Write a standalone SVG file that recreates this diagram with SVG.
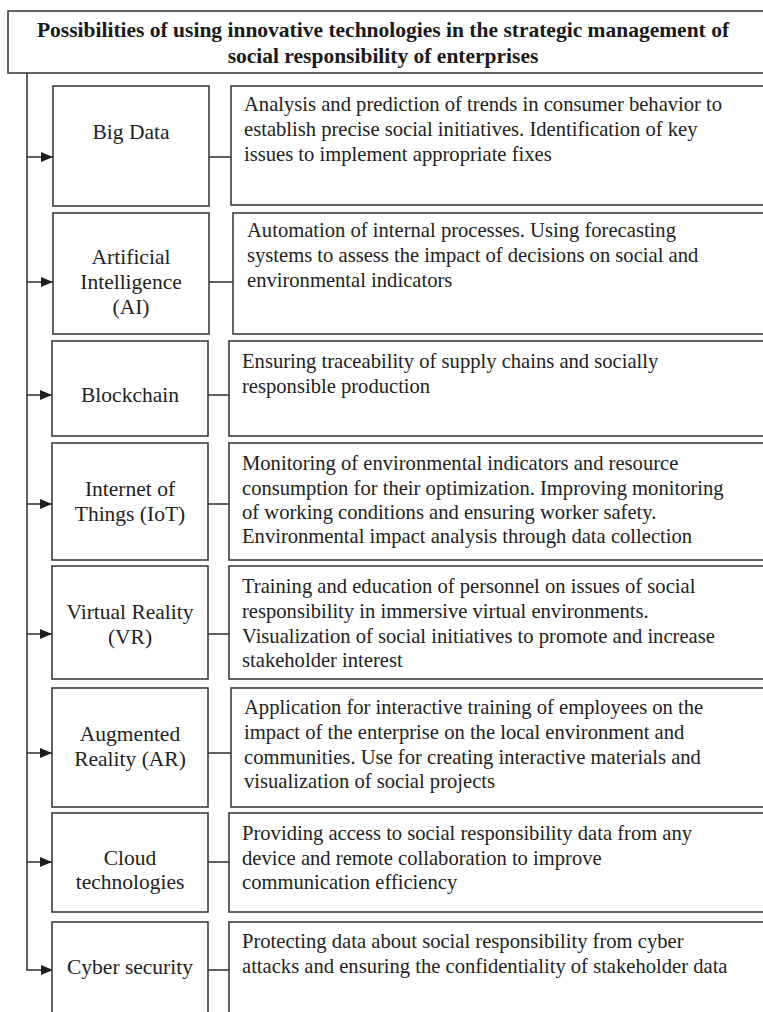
<svg xmlns="http://www.w3.org/2000/svg" width="763" height="1012" viewBox="0 0 763 1012">
  <style>
    .box { fill: #ffffff; stroke: #3c3c3c; stroke-width: 1.6; }
    .line { fill: none; stroke: #2e2e2e; stroke-width: 1.5; }
    .title { font-family: "Liberation Serif", "Times New Roman", serif; font-size: 21.5px; font-weight: bold; fill: #1a1a1a; text-anchor: middle; }
    .label { font-family: "Liberation Serif", "Times New Roman", serif; font-size: 21.5px; fill: #222222; text-anchor: middle; }
    .desc { font-family: "Liberation Serif", "Times New Roman", serif; font-size: 20.6px; fill: #222222; }
  </style>
  <defs>
    <marker id="arrow" viewBox="0 0 10 10" refX="10" refY="5" markerWidth="12" markerHeight="10" markerUnits="userSpaceOnUse" orient="auto" preserveAspectRatio="none">
      <path d="M0,0 L10,5 L0,10 z" fill="#1e1e1e"/>
    </marker>
  </defs>

  <rect width="763" height="1012" fill="#ffffff"/>

  <!-- heading -->
  <g id="title">
    <rect class="box" x="8" y="11" width="770" height="62"/>
    <text class="title" x="383" y="37">Possibilities of using innovative technologies in the strategic management of</text>
    <text class="title" x="383" y="63">social responsibility of enterprises</text>
  </g>

  <!-- connectors: trunk, arrows into each technology, links to descriptions -->
  <g id="connectors">
    <path class="line" d="M27,73 V970 H53" marker-end="url(#arrow)"/>
    <line class="line" x1="27" y1="157" x2="53" y2="157" marker-end="url(#arrow)"/>
    <line class="line" x1="27" y1="282" x2="53" y2="282" marker-end="url(#arrow)"/>
    <line class="line" x1="27" y1="395" x2="52" y2="395" marker-end="url(#arrow)"/>
    <line class="line" x1="27" y1="504" x2="52" y2="504" marker-end="url(#arrow)"/>
    <line class="line" x1="27" y1="634" x2="52" y2="634" marker-end="url(#arrow)"/>
    <line class="line" x1="27" y1="753" x2="52" y2="753" marker-end="url(#arrow)"/>
    <line class="line" x1="27" y1="862" x2="52" y2="862" marker-end="url(#arrow)"/>

    <line class="line" x1="209" y1="157" x2="231" y2="157"/>
    <line class="line" x1="209" y1="282" x2="233" y2="282"/>
    <line class="line" x1="208" y1="395" x2="229" y2="395"/>
    <line class="line" x1="208" y1="504" x2="229" y2="504"/>
    <line class="line" x1="208" y1="634" x2="229" y2="634"/>
    <line class="line" x1="208" y1="753" x2="231" y2="753"/>
    <line class="line" x1="208" y1="862" x2="229" y2="862"/>
    <line class="line" x1="208" y1="970" x2="229" y2="970"/>
  </g>

  <g id="big-data">
    <rect class="box" x="53" y="86" width="156" height="120"/>
    <text class="label" x="131" y="139">Big Data</text>
    <rect class="box" x="231" y="86" width="550" height="119"/>
    <text class="desc" x="244" y="111">Analysis and prediction of trends in consumer behavior to</text>
    <text class="desc" x="244" y="136">establish precise social initiatives. Identification of key</text>
    <text class="desc" x="244" y="161">issues to implement appropriate fixes</text>
  </g>

  <g id="artificial-intelligence">
    <rect class="box" x="53" y="213" width="156" height="121"/>
    <text class="label" x="131" y="264">Artificial</text>
    <text class="label" x="131" y="289">Intelligence</text>
    <text class="label" x="131" y="314">(AI)</text>
    <rect class="box" x="233" y="213" width="550" height="121"/>
    <text class="desc" x="247" y="237">Automation of internal processes. Using forecasting</text>
    <text class="desc" x="247" y="262">systems to assess the impact of decisions on social and</text>
    <text class="desc" x="247" y="287">environmental indicators</text>
  </g>

  <g id="blockchain">
    <rect class="box" x="52" y="341" width="156" height="95"/>
    <text class="label" x="130" y="402">Blockchain</text>
    <rect class="box" x="229" y="341" width="550" height="95"/>
    <text class="desc" x="242" y="368">Ensuring traceability of supply chains and socially</text>
    <text class="desc" x="242" y="393">responsible production</text>
  </g>

  <g id="internet-of-things">
    <rect class="box" x="52" y="443" width="156" height="117"/>
    <text class="label" x="130" y="496">Internet of</text>
    <text class="label" x="130" y="521">Things (IoT)</text>
    <rect class="box" x="229" y="443" width="550" height="117"/>
    <text class="desc" x="242" y="470">Monitoring of environmental indicators and resource</text>
    <text class="desc" x="242" y="495">consumption for their optimization. Improving monitoring</text>
    <text class="desc" x="242" y="519">of working conditions and ensuring worker safety.</text>
    <text class="desc" x="242" y="543">Environmental impact analysis through data collection</text>
  </g>

  <g id="virtual-reality">
    <rect class="box" x="52" y="566" width="156" height="113"/>
    <text class="label" x="130" y="619">Virtual Reality</text>
    <text class="label" x="130" y="644">(VR)</text>
    <rect class="box" x="229" y="566" width="550" height="113"/>
    <text class="desc" x="242" y="593">Training and education of personnel on issues of social</text>
    <text class="desc" x="242" y="618">responsibility in immersive virtual environments.</text>
    <text class="desc" x="242" y="643">Visualization of social initiatives to promote and increase</text>
    <text class="desc" x="242" y="667">stakeholder interest</text>
  </g>

  <g id="augmented-reality">
    <rect class="box" x="52" y="688" width="156" height="119"/>
    <text class="label" x="130" y="741">Augmented</text>
    <text class="label" x="130" y="766">Reality (AR)</text>
    <rect class="box" x="231" y="688" width="550" height="119"/>
    <text class="desc" x="244" y="714">Application for interactive training of employees on the</text>
    <text class="desc" x="244" y="739">impact of the enterprise on the local environment and</text>
    <text class="desc" x="244" y="764">communities. Use for creating interactive materials and</text>
    <text class="desc" x="244" y="788">visualization of social projects</text>
  </g>

  <g id="cloud-technologies">
    <rect class="box" x="52" y="813" width="156" height="99"/>
    <text class="label" x="130" y="865">Cloud</text>
    <text class="label" x="130" y="889">technologies</text>
    <rect class="box" x="229" y="813" width="550" height="99"/>
    <text class="desc" x="242" y="840">Providing access to social responsibility data from any</text>
    <text class="desc" x="242" y="865">device and remote collaboration to improve</text>
    <text class="desc" x="242" y="889">communication efficiency</text>
  </g>

  <g id="cyber-security">
    <rect class="box" x="52" y="922" width="156" height="110"/>
    <text class="label" x="130" y="974">Cyber security</text>
    <rect class="box" x="229" y="922" width="550" height="110"/>
    <text class="desc" x="242" y="948">Protecting data about social responsibility from cyber</text>
    <text class="desc" x="242" y="973">attacks and ensuring the confidentiality of stakeholder data</text>
  </g>
</svg>
